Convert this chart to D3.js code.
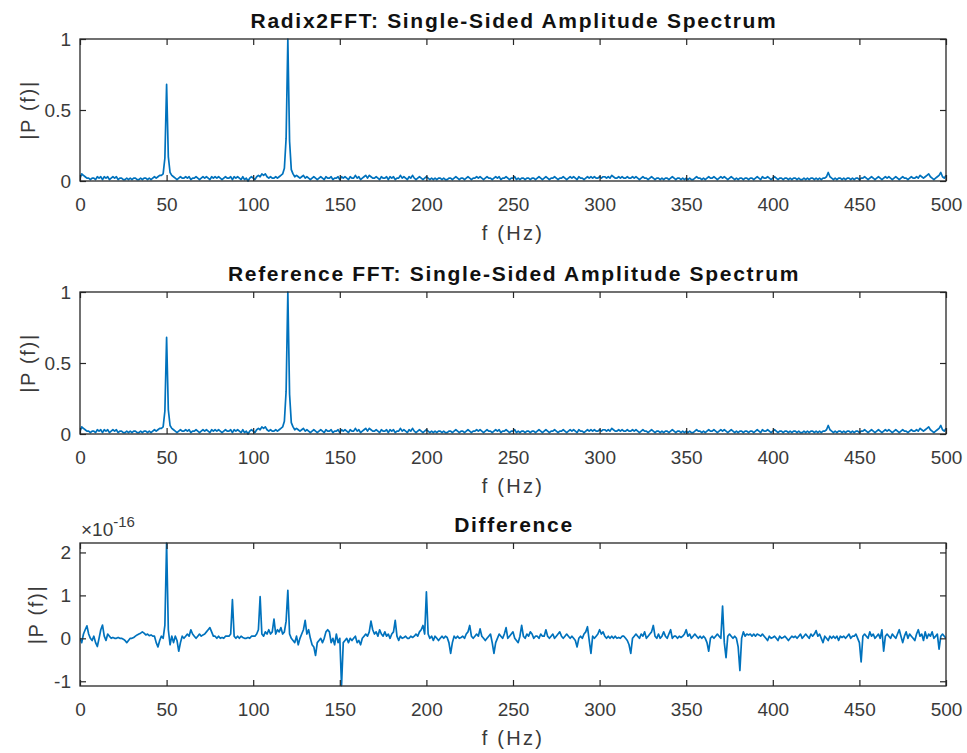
<!DOCTYPE html>
<html>
<head>
<meta charset="utf-8">
<script src="https://cdn.jsdelivr.net/npm/d3@7/dist/d3.min.js"></script>
<style>
  html, body { margin: 0; padding: 0; background: #fff; }
  svg { display: block; font-family: "Liberation Sans", Arial, Helvetica, sans-serif; }
</style>
</head>
<body>
<svg id="chart" width="967" height="753"></svg>
<script>
// ---------- DATA ----------
// frequency grid: 0..500 Hz, 1 Hz step
const freqStart = 0;
const freqStep = 1;

// single-sided amplitude spectrum |P(f)| (same for Radix2FFT and reference FFT)
const spectrum = [
0.02,0.05,0.04,0.03,0.02,0.02,0.01,0.02,0.02,0.01,
0.03,0.02,0.03,0.01,0.03,0.02,0.03,0.01,0.02,0.03,
0.02,0.03,0.01,0.02,0.02,0.01,0.01,0.02,0.01,0.02,
0.01,0.02,0.02,0.01,0.01,0.02,0.01,0.02,0.02,0.01,
0.02,0.01,0.02,0.03,0.02,0.03,0.04,0.04,0.05,0.16,
0.68,0.17,0.06,0.04,0.03,0.02,0.01,0.02,0.03,0.02,
0.02,0.03,0.02,0.03,0.01,0.02,0.02,0.03,0.02,0.01,
0.02,0.03,0.02,0.03,0.02,0.01,0.03,0.02,0.03,0.02,
0.03,0.02,0.01,0.02,0.03,0.02,0.02,0.03,0.01,0.03,
0.02,0.03,0.02,0.01,0.03,0.01,0.02,0.00,0.02,0.03,
0.02,0.01,0.03,0.04,0.03,0.05,0.04,0.05,0.03,0.02,
0.03,0.02,0.02,0.03,0.02,0.03,0.04,0.05,0.09,0.30,
1.00,0.28,0.08,0.05,0.03,0.04,0.03,0.02,0.03,0.04,
0.02,0.03,0.02,0.01,0.02,0.03,0.02,0.01,0.02,0.03,
0.02,0.01,0.03,0.02,0.02,0.03,0.01,0.02,0.02,0.03,
0.01,0.03,0.02,0.03,0.02,0.01,0.03,0.02,0.02,0.04,
0.02,0.03,0.01,0.02,0.03,0.04,0.02,0.04,0.03,0.02,
0.02,0.03,0.02,0.01,0.03,0.02,0.02,0.03,0.01,0.03,
0.02,0.03,0.01,0.02,0.02,0.04,0.02,0.03,0.02,0.01,
0.03,0.02,0.04,0.02,0.01,0.02,0.03,0.02,0.01,0.02,
0.03,0.02,0.01,0.02,0.01,0.02,0.01,0.02,0.02,0.01,
0.02,0.01,0.01,0.02,0.02,0.01,0.02,0.03,0.02,0.01,
0.02,0.02,0.01,0.02,0.03,0.02,0.01,0.02,0.02,0.03,
0.02,0.03,0.02,0.01,0.02,0.03,0.02,0.02,0.01,0.02,
0.03,0.02,0.03,0.01,0.02,0.02,0.03,0.02,0.01,0.02,
0.02,0.03,0.01,0.02,0.01,0.02,0.02,0.01,0.02,0.02,
0.01,0.02,0.02,0.01,0.02,0.03,0.02,0.01,0.02,0.03,
0.02,0.01,0.02,0.02,0.03,0.02,0.01,0.02,0.02,0.03,
0.02,0.01,0.02,0.03,0.02,0.03,0.02,0.01,0.03,0.02,
0.02,0.01,0.02,0.03,0.02,0.03,0.02,0.03,0.02,0.02,
0.03,0.02,0.03,0.03,0.02,0.03,0.02,0.04,0.03,0.02,
0.02,0.03,0.02,0.03,0.02,0.02,0.03,0.02,0.02,0.03,
0.02,0.03,0.02,0.01,0.02,0.03,0.02,0.02,0.01,0.02,
0.03,0.02,0.01,0.02,0.02,0.01,0.02,0.01,0.02,0.02,
0.01,0.02,0.03,0.02,0.01,0.02,0.02,0.01,0.02,0.01,
0.02,0.01,0.02,0.01,0.01,0.02,0.03,0.02,0.02,0.01,
0.02,0.01,0.02,0.03,0.02,0.02,0.03,0.02,0.01,0.02,
0.03,0.02,0.03,0.02,0.01,0.02,0.03,0.02,0.01,0.02,
0.01,0.02,0.02,0.01,0.02,0.02,0.01,0.02,0.02,0.01,
0.02,0.03,0.02,0.01,0.03,0.02,0.02,0.03,0.02,0.01,
0.02,0.03,0.02,0.01,0.02,0.02,0.01,0.02,0.02,0.01,
0.02,0.01,0.02,0.02,0.01,0.02,0.01,0.01,0.02,0.01,
0.02,0.01,0.02,0.02,0.01,0.02,0.01,0.02,0.01,0.02,
0.02,0.03,0.06,0.03,0.02,0.01,0.02,0.01,0.02,0.02,
0.01,0.02,0.01,0.02,0.02,0.01,0.02,0.01,0.02,0.02,
0.01,0.02,0.02,0.03,0.02,0.01,0.02,0.03,0.02,0.01,
0.02,0.03,0.02,0.01,0.02,0.03,0.02,0.03,0.02,0.01,
0.02,0.03,0.02,0.01,0.02,0.03,0.02,0.02,0.01,0.02,
0.03,0.02,0.02,0.03,0.02,0.04,0.03,0.02,0.03,0.04,
0.05,0.03,0.02,0.01,0.02,0.03,0.04,0.06,0.03,0.02,
0.04
];

// difference Radix2FFT - reference, in units of 10^-16
const diffExponent = -16;
const difference = [
0.0,-0.1,0.1,0.2,0.29,0.1,0.0,-0.05,0.05,-0.1,
-0.19,0.0,0.2,0.31,0.05,-0.05,0.1,0.05,0.0,0.02,
0.0,0.0,0.02,0.0,0.0,-0.02,-0.05,-0.1,-0.05,0.0,
0.0,0.02,0.05,0.08,0.1,0.12,0.15,0.12,0.08,0.1,
0.06,0.08,0.05,0.05,-0.1,-0.2,-0.05,0.05,0.0,0.3,
2.22,0.2,-0.15,0.05,-0.1,0.05,-0.05,-0.3,-0.1,0.05,
0.0,0.05,0.1,0.05,0.2,0.1,0.05,0.0,0.05,0.1,
0.05,0.08,0.1,0.15,0.2,0.25,0.15,0.05,0.05,0.0,
0.05,0.0,0.02,0.0,0.05,0.05,0.05,0.1,0.9,0.05,
0.0,0.05,0.0,0.05,0.02,0.0,0.0,0.02,0.0,0.05,
0.05,0.05,0.1,0.2,0.97,0.1,0.05,0.15,0.1,0.2,
0.1,0.15,0.45,0.1,0.2,0.15,0.25,0.1,0.15,0.4,
1.12,0.1,0.0,-0.05,-0.1,0.05,-0.15,0.0,0.1,0.2,
0.42,0.1,0.2,0.0,-0.15,-0.2,-0.4,-0.1,-0.05,0.0,
-0.1,0.0,0.15,0.2,0.15,-0.1,0.0,-0.15,0.1,-0.1,
0.0,-1.1,-0.1,-0.05,0.0,-0.1,0.0,-0.05,0.0,0.05,
-0.1,-0.05,-0.15,0.0,0.05,0.1,0.05,0.15,0.4,0.2,
0.1,0.15,0.05,0.2,0.1,0.05,0.15,0.05,0.1,0.0,
0.1,0.15,0.42,0.05,-0.05,0.05,0.0,0.02,0.05,0.0,
0.0,0.05,0.02,0.05,0.1,0.05,0.15,0.2,0.3,0.1,
1.08,0.1,0.0,0.05,-0.05,0.05,0.0,-0.05,0.0,0.05,
0.0,0.05,0.02,-0.1,-0.35,-0.1,0.05,0.0,0.05,0.0,
0.02,0.05,0.0,0.1,0.15,0.3,0.05,0.0,0.05,0.1,
0.05,0.22,0.05,0.0,-0.05,0.0,0.05,0.1,-0.1,-0.35,
-0.1,0.0,0.1,0.05,0.0,0.1,0.25,0.0,0.05,0.1,
0.15,0.0,-0.05,-0.1,0.05,0.3,0.05,0.0,0.1,0.05,
0.15,0.1,0.0,0.05,0.05,0.0,0.1,0.05,0.05,0.2,
0.05,0.0,0.05,0.1,0.0,0.05,0.1,0.15,0.05,0.0,
0.05,0.1,0.05,0.0,0.05,0.0,-0.05,-0.2,0.0,0.05,
0.0,0.1,0.15,0.27,-0.05,-0.35,0.05,0.0,0.05,0.1,
0.2,0.1,0.15,0.05,0.0,0.05,0.0,0.05,0.0,0.05,
0.0,0.02,0.0,0.05,0.05,0.0,-0.05,-0.15,-0.35,0.0,
0.05,0.1,0.05,0.0,0.1,0.05,0.15,0.0,0.05,0.1,
0.15,0.3,0.05,0.0,0.1,0.0,0.05,0.15,0.05,0.0,
0.1,0.2,0.0,0.05,0.05,0.0,0.05,0.02,0.05,0.1,
0.2,0.05,0.1,0.0,0.05,0.1,0.05,0.0,0.05,0.0,
0.05,0.0,-0.1,-0.3,0.0,0.05,0.0,0.05,0.1,0.05,
0.0,0.75,-0.1,-0.45,0.05,0.1,0.05,0.0,0.05,0.0,
-0.2,-0.75,0.0,0.15,0.05,0.1,0.08,0.1,0.05,0.1,
0.05,0.1,0.08,0.05,0.1,0.05,0.0,-0.05,0.05,0.0,
0.02,0.05,0.0,-0.05,0.05,0.0,0.02,0.05,0.0,-0.05,
0.0,0.05,0.02,0.05,0.0,0.05,0.1,0.0,0.05,0.1,
0.05,0.0,0.1,0.05,0.1,0.18,0.05,0.1,0.0,-0.1,
0.05,0.0,-0.05,0.05,0.0,0.05,0.0,0.05,-0.05,0.05,
0.02,0.05,0.0,0.05,0.1,0.0,0.05,0.05,0.1,0.0,
-0.1,-0.55,0.05,0.1,0.05,0.0,0.15,0.05,0.1,0.0,
0.05,0.1,0.0,0.2,-0.3,0.05,0.1,0.05,0.0,0.1,
0.05,0.0,0.1,0.2,0.05,-0.1,0.05,0.15,0.0,0.1,
0.05,0.0,-0.05,0.1,0.2,0.05,0.1,-0.05,0.15,0.0,
0.1,0.05,0.15,0.0,0.05,0.1,-0.25,0.05,0.1,0.05,
0.0
];

const xTicks = [0, 50, 100, 150, 200, 250, 300, 350, 400, 450, 500];
const specTicks = [0, 0.5, 1];
const diffTicks = [-1, 0, 1, 2];
const titles = [
  "Radix2FFT: Single-Sided Amplitude Spectrum",
  "Reference FFT: Single-Sided Amplitude Spectrum",
  "Difference"
];
const xLabel = "f (Hz)";
const yLabel = "|P (f)|";

// ---------- DRAW ----------
const svg = d3.select("#chart");
const axisColor = "#262626";
const tickTextColor = "#3a3a3a";
const lineColor = "#0072BD";
const left = 80, right = 946;

const panels = [
  { title: titles[0], top: 39,  bottom: 181, values: spectrum,   domain: [0, 1],        ticks: specTicks, ylabX: 35 },
  { title: titles[1], top: 292, bottom: 434, values: spectrum,   domain: [0, 1],        ticks: specTicks, ylabX: 35 },
  { title: titles[2], top: 543, bottom: 686, values: difference, domain: [-1.11, 2.22], ticks: diffTicks, ylabX: 43, exp: diffExponent }
];

const x = d3.scaleLinear().domain([0, 500]).range([left, right]);

panels.forEach((p, i) => {
  const y = d3.scaleLinear().domain(p.domain).range([p.bottom, p.top]);
  const g = svg.append("g");

  const clipId = "clip" + i;
  svg.append("defs").append("clipPath").attr("id", clipId)
    .append("rect").attr("x", left).attr("y", p.top - 1)
    .attr("width", right - left).attr("height", p.bottom - p.top + 2);

  // line
  const line = d3.line()
    .x((d, k) => x(freqStart + k * freqStep))
    .y(d => y(d));
  g.append("path")
    .datum(p.values)
    .attr("clip-path", `url(#${clipId})`)
    .attr("fill", "none")
    .attr("stroke", lineColor)
    .attr("stroke-width", 1.7)
    .attr("stroke-linejoin", "round")
    .attr("d", line);

  // axes
  const fontSize = 19;
  const bottomAxis = d3.axisBottom(x).tickValues(xTicks).tickSize(-6).tickSizeOuter(0).tickPadding(17)
    .tickFormat(d3.format("d"));
  const gb = g.append("g").attr("transform", `translate(0,${p.bottom})`).call(bottomAxis);
  const topAxis = d3.axisTop(x).tickValues(xTicks).tickSize(-6).tickSizeOuter(0).tickFormat("");
  const gt = g.append("g").attr("transform", `translate(0,${p.top})`).call(topAxis);
  const leftAxis = d3.axisLeft(y).tickValues(p.ticks).tickSize(-6).tickSizeOuter(0).tickPadding(9)
    .tickFormat(d => d < 0 ? "-" + Math.abs(d) : String(d));
  const gl = g.append("g").attr("transform", `translate(${left},0)`).call(leftAxis);
  const rightAxis = d3.axisRight(y).tickValues(p.ticks).tickSize(-6).tickSizeOuter(0).tickFormat("");
  const gr = g.append("g").attr("transform", `translate(${right},0)`).call(rightAxis);

  [gb, gt, gl, gr].forEach(a => {
    a.select(".domain").remove();
    a.selectAll(".tick line").attr("stroke", axisColor).attr("stroke-width", 1.2);
    a.selectAll(".tick text").attr("fill", tickTextColor)
      .style("font-size", fontSize + "px")
      .style("font-family", '"Liberation Sans", Arial, sans-serif');
  });

  // box
  g.append("rect")
    .attr("x", left).attr("y", p.top)
    .attr("width", right - left).attr("height", p.bottom - p.top)
    .attr("fill", "none").attr("stroke", axisColor).attr("stroke-width", 1.3);

  // title
  g.append("text")
    .attr("x", (left + right) / 2 + 1).attr("y", p.top - 11)
    .attr("text-anchor", "middle")
    .style("font-size", "21px").style("font-weight", "bold")
    .style("letter-spacing", "1.7px")
    .attr("fill", "#111")
    .text(p.title);

  // x label
  g.append("text")
    .attr("x", (left + right) / 2).attr("y", p.bottom + 59)
    .attr("text-anchor", "middle")
    .style("font-size", "20px").style("letter-spacing", "2.3px")
    .attr("fill", tickTextColor)
    .text(xLabel);

  // y label
  g.append("text")
    .attr("transform", `translate(${p.ylabX},${(p.top + p.bottom) / 2}) rotate(-90)`)
    .attr("text-anchor", "middle")
    .style("font-size", "20px").style("letter-spacing", "1.7px")
    .attr("fill", tickTextColor)
    .text(yLabel);

  // exponent label
  if (p.exp !== undefined) {
    const t = g.append("text")
      .attr("x", left + 1).attr("y", p.top - 7)
      .attr("fill", tickTextColor)
      .style("font-size", "19px");
    t.append("tspan").text("\u00d710");
    t.append("tspan").attr("dy", -9).style("font-size", "15px").text(String(p.exp));
  }
});
</script>
</body>
</html>
